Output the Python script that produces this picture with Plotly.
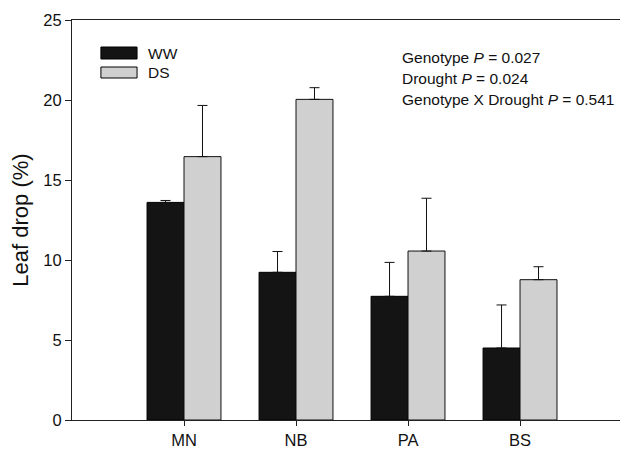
import plotly.graph_objects as go

categories = ["MN", "NB", "PA", "BS"]
ww_values = [13.6, 9.23, 7.73, 4.5]
ww_err = [0.12, 1.3, 2.12, 2.69]
ds_values = [16.46, 20.04, 10.56, 8.77]
ds_err = [3.2, 0.73, 3.3, 0.81]
y_ticks = [0, 5, 10, 15, 20, 25]
stats_lines = ["Genotype <i>P</i> = 0.027", "Drought <i>P</i> = 0.024",
               "Genotype X Drought <i>P</i> = 0.541"]

FONT = "Liberation Sans, Arial, sans-serif"
xs = list(range(len(categories)))

fig = go.Figure()
fig.add_trace(go.Bar(
    x=xs, y=ww_values, name="WW",
    marker=dict(color="#141414", line=dict(color="#000000", width=1)),
    error_y=dict(type="data", symmetric=False, array=ww_err,
                 arrayminus=[0] * len(ww_err), color="#111111",
                 thickness=1, width=5),
))
fig.add_trace(go.Bar(
    x=xs, y=ds_values, name="DS",
    marker=dict(color="#d0d0d0", line=dict(color="#111111", width=1)),
    error_y=dict(type="data", symmetric=False, array=ds_err,
                 arrayminus=[0] * len(ds_err), color="#111111",
                 thickness=1, width=5),
))

# custom legend (wide boxes)
legend_items = [("WW", "#141414"), ("DS", "#d0d0d0")]
legend_y = [(0.9325, 0.9025), (0.8825, 0.855)]
for (name, col), (y1, y0) in zip(legend_items, legend_y):
    fig.add_shape(type="rect", xref="paper", yref="paper",
                  x0=0.052, x1=0.117, y0=y0, y1=y1,
                  fillcolor=col, line=dict(color="#000000", width=1))
    fig.add_annotation(xref="paper", yref="paper", x=0.133, y=(y0 + y1) / 2,
                       text=name, showarrow=False, xanchor="left",
                       yanchor="middle", font=dict(size=15.5, color="#111111", family=FONT))

for i, (txt, yy) in enumerate(zip(stats_lines, [0.9058, 0.8525, 0.8])):
    fig.add_annotation(xref="paper", yref="paper", x=0.59, y=yy, text=txt,
                       showarrow=False, xanchor="left", yanchor="middle",
                       font=dict(size=15.5, color="#111111", family=FONT))

fig.update_layout(
    width=620, height=441,
    margin=dict(l=64, r=0, t=12, b=29),
    paper_bgcolor="white", plot_bgcolor="white",
    barmode="group", bargap=0.34, bargroupgap=0,
    showlegend=False,
    font=dict(family=FONT, color="#111111"),
)
fig.update_xaxes(
    range=[-1, 3.964], tickvals=xs, ticktext=categories,
    showline=True, linecolor="#222222", linewidth=1, mirror=True,
    ticks="outside", ticklen=5, tickcolor="#222222",
    showgrid=False, zeroline=False, tickfont=dict(size=16.5),
)
fig.update_yaxes(
    range=[0, 25], tickvals=y_ticks,
    showline=True, linecolor="#222222", linewidth=1, mirror=False,
    ticks="outside", ticklen=6, tickcolor="#222222",
    showgrid=False, zeroline=False, tickfont=dict(size=16.5),
    title=dict(text="Leaf drop (%)", font=dict(size=22), standoff=11),
)

fig.write_html("out.html")
